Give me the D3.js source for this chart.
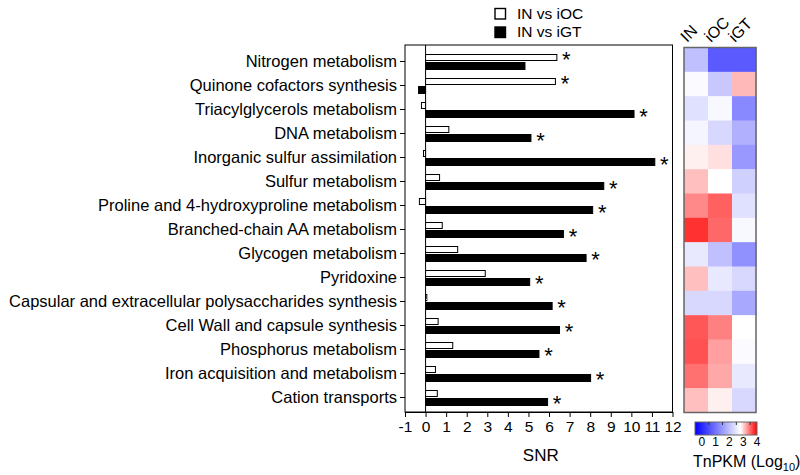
<!DOCTYPE html>
<html>
<head>
<meta charset="utf-8">
<script src="https://cdn.jsdelivr.net/npm/d3@7"></script>
<style>
  body { margin: 0; background: #fff; }
  svg { font-family: "Liberation Sans", Arial, Helvetica, sans-serif; }
</style>
</head>
<body>
<div id="content"></div>
<script>
(function(){

  //////////////////////////////////////////////////////////////
  //////////////////////// data ////////////////////////////////
  //////////////////////////////////////////////////////////////
  var categories = [
    "Nitrogen metabolism",
    "Quinone cofactors synthesis",
    "Triacylglycerols metabolism",
    "DNA metabolism",
    "Inorganic sulfur assimilation",
    "Sulfur metabolism",
    "Proline and 4-hydroxyproline metabolism",
    "Branched-chain AA metabolism",
    "Glycogen metabolism",
    "Pyridoxine",
    "Capsular and extracellular polysaccharides synthesis",
    "Cell Wall and capsule synthesis",
    "Phosphorus metabolism",
    "Iron acquisition and metabolism",
    "Cation transports"
  ];

  // SNR, IN vs iOC (white) and IN vs iGT (black)
  var snrOC = [6.38, 6.31, -0.2, 1.13, -0.1, 0.68, -0.3, 0.81, 1.56, 2.9, 0.06, 0.61, 1.32, 0.48, 0.57];
  var snrGT = [4.83, -0.34, 10.13, 5.12, 11.14, 8.66, 8.12, 6.70, 7.8, 5.06, 6.15, 6.51, 5.51, 8.02, 5.93];
  // which bar carries the asterisk
  var sigOC = [1, 1, 0, 0, 0, 0, 0, 0, 0, 0, 0, 0, 0, 0, 0];
  var sigGT = [0, 0, 1, 1, 1, 1, 1, 1, 1, 1, 1, 1, 1, 1, 1];

  var xTicks = [-1, 0, 1, 2, 3, 4, 5, 6, 7, 8, 9, 10, 11, 12];

  // heatmap, TnPKM (log10)
  var heatCols = ["IN", "iOC", "iGT"];
  var heatIN  = [1.98, 2.74, 2.40, 2.67, 2.87, 3.10, 3.36, 3.77, 2.50, 3.10, 2.30, 3.59, 3.62, 3.47, 3.10];
  var heatIOC = [0.66, 2.09, 2.71, 2.30, 2.95, 2.80, 3.55, 3.51, 1.98, 2.50, 2.30, 3.40, 3.25, 3.21, 2.87];
  var heatIGT = [0.66, 3.13, 1.26, 1.78, 1.47, 2.19, 2.40, 2.71, 1.36, 2.30, 1.67, 2.80, 2.74, 2.50, 2.30];
  var colorTicks = [0, 1, 2, 3, 4];

  var width = 800, height = 475;

  var svg = d3.select("#content").append("svg")
      .attr("width", width)
      .attr("height", height);

  //////////////////////////////////////////////////////////////
  //////////////////////// bar chart ///////////////////////////
  //////////////////////////////////////////////////////////////
  var plot = {left: 405, right: 672.5, top: 45, bottom: 412};

  var x = d3.scaleLinear()
      .domain([-1, 12])
      .range([plot.left, plot.right]);

  var y = d3.scalePoint()
      .domain(categories)
      .range([plot.top, plot.bottom + 1])
      .padding(0.667);

  var rows = categories.map(function(c, i) {
    return {name: c, oc: snrOC[i], gt: snrGT[i], sOC: sigOC[i], sGT: sigGT[i]};
  });

  // frame
  svg.append("rect")
      .attr("x", plot.left)
      .attr("y", plot.top)
      .attr("width", plot.right - plot.left)
      .attr("height", plot.bottom - plot.top)
      .style("fill", "none")
      .style("stroke", "#000")
      .style("stroke-width", 1);

  // zero line
  svg.append("line")
      .attr("x1", x(0)).attr("x2", x(0))
      .attr("y1", plot.top).attr("y2", plot.bottom)
      .style("stroke", "#000")
      .style("stroke-width", 1);

  // x axis
  var xAxis = svg.append("g")
      .attr("transform", "translate(0," + plot.bottom + ")")
      .call(d3.axisBottom(x)
        .tickValues(xTicks)
        .tickFormat(function(d) { return String(d); })
        .tickSize(5).tickSizeOuter(0).tickPadding(4));
  xAxis.select(".domain").style("stroke", "#000");
  xAxis.selectAll("text")
      .style("font-family", "Liberation Sans, Arial, sans-serif")
      .style("font-size", "15.5px")
      .style("fill", "#000");

  // y axis (category labels)
  var yAxis = svg.append("g")
      .attr("transform", "translate(" + plot.left + ",0)")
      .call(d3.axisLeft(y).tickSize(5).tickSizeOuter(0).tickPadding(3));
  yAxis.select(".domain").remove();
  yAxis.selectAll("text")
      .style("font-family", "Liberation Sans, Arial, sans-serif")
      .style("font-size", "16.5px")
      .style("fill", "#000");

  svg.append("text")
      .attr("x", x(5.6))
      .attr("y", 461)
      .attr("text-anchor", "middle")
      .style("font-size", "17px")
      .text("SNR");

  var barH = 7;

  // white bars, IN vs iOC
  svg.selectAll(".barOC")
      .data(rows)
    .enter().append("rect")
      .attr("class", "barOC")
      .attr("x", function(d) { return x(Math.min(0, d.oc)); })
      .attr("y", function(d) { return y(d.name) - barH + 0.5; })
      .attr("width", function(d) { return Math.abs(x(d.oc) - x(0)); })
      .attr("height", barH - 1)
      .style("fill", "#fff")
      .style("stroke", "#000")
      .style("stroke-width", 1);

  // black bars, IN vs iGT
  svg.selectAll(".barGT")
      .data(rows)
    .enter().append("rect")
      .attr("class", "barGT")
      .attr("x", function(d) { return x(Math.min(0, d.gt)); })
      .attr("y", function(d) { return y(d.name) + 1.5; })
      .attr("width", function(d) { return Math.abs(x(d.gt) - x(0)); })
      .attr("height", barH)
      .style("fill", "#000")
      .style("stroke", "#000")
      .style("stroke-width", 1);

  // asterisks
  svg.selectAll(".star")
      .data(rows)
    .enter().append("text")
      .attr("class", "star")
      .attr("x", function(d) { return x(d.sOC ? d.oc : d.gt) + 9.5; })
      .attr("y", function(d) { return (d.sOC ? y(d.name) - 3.5 : y(d.name) + 5) + 9.5; })
      .attr("text-anchor", "middle")
      .style("font-size", "22px")
      .text("*");

  // legend
  var legend = [{label: "IN vs iOC", fill: "#fff"}, {label: "IN vs iGT", fill: "#000"}];
  var lg = svg.selectAll(".legend")
      .data(legend)
    .enter().append("g")
      .attr("class", "legend")
      .attr("transform", function(d, i) { return "translate(495," + (8.5 + i * 18.5) + ")"; });
  lg.append("rect")
      .attr("width", 10.5)
      .attr("height", 10.5)
      .style("fill", function(d) { return d.fill; })
      .style("stroke", "#000")
      .style("stroke-width", 1.4);
  lg.append("text")
      .attr("x", 22)
      .attr("y", 10)
      .style("font-size", "15.5px")
      .text(function(d) { return d.label; });

  //////////////////////////////////////////////////////////////
  //////////////////////// heatmap /////////////////////////////
  //////////////////////////////////////////////////////////////
  var hm = {left: 684, right: 756, top: 47.5, bottom: 412.5};

  var hx = d3.scaleBand()
      .domain(heatCols)
      .range([hm.left, hm.right]);

  var hy = d3.scaleBand()
      .domain(categories)
      .range([hm.top, hm.bottom]);

  var color = d3.scaleLinear()
      .domain([-0.5, 2.8, 4])
      .range(["#0000ff", "#ffffff", "#ff0000"]);

  var heatSeries = [heatIN, heatIOC, heatIGT];
  var cells = [];
  categories.forEach(function(c, i) {
    heatCols.forEach(function(col, j) {
      cells.push({row: c, col: col, v: heatSeries[j][i]});
    });
  });

  svg.selectAll(".cell")
      .data(cells)
    .enter().append("rect")
      .attr("class", "cell")
      .attr("x", function(d) { return hx(d.col); })
      .attr("y", function(d) { return hy(d.row); })
      .attr("width", hx.bandwidth() + 0.5)
      .attr("height", hy.bandwidth() + 0.5)
      .style("fill", function(d) { return color(d.v); });

  svg.append("rect")
      .attr("x", hm.left)
      .attr("y", hm.top)
      .attr("width", hm.right - hm.left)
      .attr("height", hm.bottom - hm.top)
      .style("fill", "none")
      .style("stroke", "#666")
      .style("stroke-width", 1.5);

  svg.selectAll(".colLabel")
      .data(heatCols)
    .enter().append("text")
      .attr("class", "colLabel")
      .attr("transform", function(d) { return "translate(" + (hx(d) + 3) + ",43) rotate(-45)"; })
      .style("font-size", "16px")
      .text(function(d) { return d; });

  // colour legend
  var cx = d3.scaleLinear()
      .domain([-0.5, 4])
      .range([695, 757]);

  var grad = svg.append("defs").append("linearGradient")
      .attr("id", "tnGrad")
      .attr("x1", "0%").attr("x2", "100%");
  color.domain().forEach(function(v) {
    grad.append("stop")
        .attr("offset", ((cx(v) - 695) / 62 * 100) + "%")
        .attr("stop-color", color(v));
  });

  svg.append("rect")
      .attr("x", cx(-0.5))
      .attr("y", 422)
      .attr("width", cx(4) - cx(-0.5))
      .attr("height", 13)
      .style("fill", "url(#tnGrad)")
      .style("stroke", "#666")
      .style("stroke-width", 1);

  svg.selectAll(".cTick")
      .data([0.5, 1.5, 2.5, 3.5])
    .enter().append("line")
      .attr("class", "cTick")
      .attr("x1", function(d) { return cx(d); })
      .attr("x2", function(d) { return cx(d); })
      .attr("y1", 422)
      .attr("y2", 425)
      .style("stroke", "#333")
      .style("stroke-width", 1);

  svg.selectAll(".cLabel")
      .data(colorTicks)
    .enter().append("text")
      .attr("class", "cLabel")
      .attr("x", function(d) { return cx(d); })
      .attr("y", 446)
      .attr("text-anchor", "middle")
      .style("font-size", "12px")
      .text(function(d) { return d; });

  var tn = svg.append("text")
      .attr("x", 693)
      .attr("y", 467)
      .style("font-size", "16px")
      .text("TnPKM (Log");
  tn.append("tspan")
      .attr("dy", 4)
      .style("font-size", "11px")
      .text("10");
  tn.append("tspan")
      .attr("dy", -4)
      .text(")");

})();
</script>
</body>
</html>
